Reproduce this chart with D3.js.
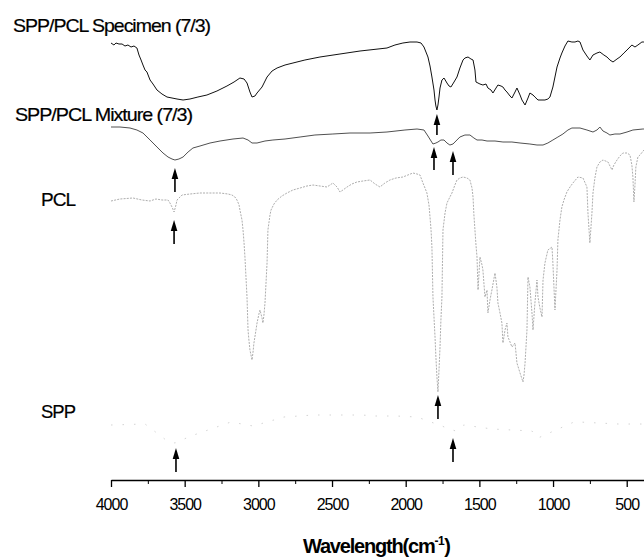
<!DOCTYPE html>
<html>
<head>
<meta charset="utf-8">
<script src="https://cdn.jsdelivr.net/npm/d3@7/dist/d3.min.js"></script>
<style>
  html, body { margin: 0; padding: 0; background: #fff; }
  svg { display: block; }
  text { font-family: "Liberation Sans", Arial, Helvetica, sans-serif; fill: #000; }
</style>
</head>
<body>
<svg id="chart" width="644" height="559"></svg>
<script>
// ---- Data (wavenumber cm-1, transmittance in arbitrary offset units) ----
const seriesNames = ["SPP/PCL Specimen (7/3)", "SPP/PCL Mixture (7/3)", "PCL", "SPP"];

const specimen = [[4000,43.7],[3980,43.5],[3966,43.7],[3946,43.6],[3925,43.6],[3905,43.4],[3885,43.5],[3864,43.3],[3844,43.4],[3824,43.2],[3810,42.5],[3796,42.0],[3783,41.5],[3769,41.0],[3756,40.8],[3735,40.0],[3715,39.6],[3688,39.0],[3654,38.6],[3620,38.3],[3586,38.2],[3552,38.1],[3511,38.0],[3464,38.1],[3410,38.3],[3349,38.5],[3281,38.9],[3213,39.4],[3165,39.8],[3125,40.2],[3097,40.1],[3077,39.7],[3057,38.8],[3043,38.3],[3023,38.4],[3009,38.7],[2975,39.3],[2941,40.3],[2907,40.9],[2873,41.2],[2819,41.5],[2765,41.7],[2684,42.0],[2582,42.3],[2446,42.6],[2310,42.9],[2127,43.2],[2073,43.5],[2019,43.7],[1971,43.8],[1923,43.8],[1896,43.7],[1876,43.3],[1849,42.3],[1835,41.4],[1822,40.3],[1808,39.0],[1801,38.0],[1795,37.4],[1788,37.0],[1781,37.5],[1774,38.3],[1767,39.2],[1754,40.0],[1740,40.2],[1720,39.7],[1706,39.4],[1693,39.3],[1672,39.8],[1652,40.3],[1632,41.2],[1611,42.0],[1598,42.2],[1577,42.3],[1557,42.1],[1543,42.0],[1530,41.0],[1523,39.8],[1496,39.6],[1476,39.5],[1455,39.6],[1442,39.2],[1421,39.0],[1408,38.7],[1387,39.2],[1374,39.5],[1353,39.4],[1340,39.3],[1326,39.0],[1313,38.8],[1292,38.4],[1279,38.2],[1258,38.8],[1245,39.2],[1224,38.5],[1211,38.0],[1190,37.5],[1170,38.2],[1157,38.7],[1136,38.5],[1123,38.3],[1102,38.0],[1089,38.0],[1055,38.0],[1035,38.1],[1021,38.3],[1001,39.3],[987,40.3],[973,41.3],[953,42.2],[940,42.7],[919,43.4],[899,43.9],[872,43.8],[851,43.8],[831,43.9],[817,43.8],[797,43.0],[770,42.4],[750,42.0],[729,42.5],[702,42.7],[682,42.8],[655,42.5],[634,42.3],[614,42.0],[593,41.8],[566,42.1],[546,42.3],[519,42.7],[498,43.0],[478,43.3],[465,43.5],[444,43.3],[424,43.5],[397,43.8],[383,43.8]];

const mixture = [[4000,35.3],[3939,35.3],[3871,35.2],[3824,35.0],[3783,34.7],[3735,34.0],[3688,33.3],[3647,32.7],[3613,32.3],[3586,32.1],[3566,32.0],[3539,32.1],[3511,32.3],[3477,32.8],[3444,33.2],[3396,33.4],[3328,33.7],[3260,33.9],[3172,34.1],[3104,34.2],[3070,34.0],[3043,33.7],[3009,33.7],[2955,33.9],[2901,34.0],[2819,34.1],[2717,34.3],[2616,34.5],[2494,34.6],[2378,34.7],[2242,34.7],[2127,34.8],[2005,35.0],[1923,35.1],[1876,35.0],[1849,34.4],[1828,33.9],[1815,33.6],[1795,33.7],[1781,33.8],[1761,34.0],[1740,34.0],[1720,33.7],[1700,33.5],[1679,33.6],[1659,33.9],[1632,34.3],[1598,34.5],[1564,34.5],[1537,34.2],[1516,34.0],[1482,34.0],[1448,33.9],[1394,33.9],[1340,33.8],[1279,33.8],[1224,33.7],[1157,33.6],[1109,33.5],[1068,33.5],[1035,33.7],[1001,34.0],[967,34.3],[933,34.6],[899,35.0],[872,35.2],[817,35.2],[770,35.0],[729,34.8],[702,35.0],[682,35.3],[661,34.9],[634,34.7],[614,34.5],[580,34.6],[546,34.6],[498,34.8],[458,35.0],[390,35.1],[383,35.1]];

const pcl = [[4000,27.9],[3939,28.1],[3851,28.2],[3790,28.0],[3735,27.9],[3695,28.1],[3654,28.0],[3613,28.0],[3600,27.7],[3586,27.3],[3572,26.8],[3559,27.5],[3552,28.0],[3518,28.5],[3464,28.6],[3396,28.7],[3328,28.7],[3260,28.7],[3206,28.6],[3179,28.5],[3159,28.3],[3145,28.0],[3131,27.5],[3125,27.0],[3111,26.0],[3104,25.0],[3097,23.7],[3091,22.3],[3084,20.3],[3077,18.3],[3070,15.0],[3064,14.0],[3057,13.0],[3043,12.0],[3036,12.8],[3030,13.7],[3016,15.0],[3009,15.7],[2996,16.6],[2989,17.0],[2975,16.2],[2969,15.7],[2962,16.5],[2955,17.7],[2948,19.7],[2941,21.7],[2935,25.0],[2921,26.5],[2914,27.0],[2894,27.6],[2873,28.0],[2840,28.4],[2806,28.7],[2765,29.0],[2717,29.2],[2670,29.4],[2629,29.5],[2582,29.4],[2534,29.3],[2494,29.7],[2466,29.3],[2446,28.8],[2426,29.0],[2398,29.3],[2365,29.6],[2331,29.8],[2290,29.9],[2242,30.0],[2208,29.6],[2175,29.3],[2141,29.7],[2107,30.0],[2066,30.2],[2019,30.3],[1985,30.5],[1951,30.7],[1923,30.6],[1903,30.5],[1883,29.7],[1869,29.2],[1856,28.7],[1842,27.5],[1835,26.3],[1828,25.0],[1822,23.3],[1815,18.3],[1808,16.3],[1801,14.3],[1795,12.3],[1788,10.3],[1781,8.8],[1774,11.0],[1767,13.3],[1761,16.0],[1754,18.3],[1747,25.0],[1733,26.7],[1720,27.7],[1700,28.3],[1686,28.7],[1666,29.5],[1652,30.0],[1632,30.2],[1611,30.3],[1584,30.2],[1564,30.0],[1550,29.2],[1543,28.3],[1537,26.5],[1530,25.0],[1523,23.5],[1516,22.3],[1509,19.0],[1496,22.3],[1482,21.5],[1476,21.0],[1462,18.3],[1448,19.0],[1442,16.7],[1428,18.0],[1415,19.0],[1394,20.7],[1381,19.3],[1374,17.7],[1360,16.7],[1347,15.7],[1340,13.7],[1326,15.0],[1313,15.7],[1306,14.3],[1292,13.8],[1279,13.3],[1258,13.7],[1245,11.7],[1224,10.7],[1204,9.8],[1197,10.5],[1190,11.7],[1177,15.0],[1170,20.3],[1157,19.3],[1143,16.7],[1136,15.0],[1123,17.7],[1109,20.0],[1102,18.3],[1089,17.2],[1075,16.3],[1068,20.0],[1055,21.7],[1035,23.0],[1007,23.3],[1001,21.7],[987,17.0],[973,21.0],[967,24.0],[953,26.0],[940,27.3],[926,28.0],[906,28.8],[885,29.3],[865,29.7],[831,30.3],[797,30.2],[770,29.3],[763,26.7],[750,23.7],[736,26.7],[729,28.7],[716,30.2],[702,31.3],[682,31.8],[661,32.0],[627,31.8],[600,31.0],[587,31.5],[566,32.0],[546,32.4],[526,32.7],[498,32.7],[478,32.5],[465,31.5],[458,30.3],[451,27.8],[444,29.5],[438,31.3],[424,32.3],[410,32.5],[383,33.0]];

const spp = [[4000,5.5],[3769,5.6],[3627,4.0],[3566,3.7],[3457,4.4],[3186,5.8],[3036,5.4],[2941,5.8],[2826,6.3],[2622,6.5],[2534,6.5],[2297,6.5],[2208,6.4],[2066,6.4],[1923,6.3],[1754,5.4],[1706,5.1],[1659,4.9],[1605,5.5],[1415,5.1],[1143,4.9],[1102,4.2],[858,5.8],[824,5.8],[559,5.6],[383,5.6]];

// arrows: [wavenumber, tip value, tail value]
const arrows = [[3566,31.2,28.8],[3572,26.0,23.6],[1788,36.6,34.5],[1808,33.3,31.0],[1679,32.9,30.5],[3559,3.2,0.8],[1781,8.5,6.1],[1679,4.2,1.8]];

const majorTicks = [4000,3500,3000,2500,2000,1500,1000,500];
const minorTicks = [3750,3250,2750,2250,1750,1250,750];
const xTitle = "Wavelength(cm";
const xTitleSup = "-1";

// ---- Drawing ----
const svg = d3.select("#chart");
const x = d3.scaleLinear().domain([4000, 380]).range([111, 644.4]);
const y = d3.scaleLinear().domain([0, 48]).range([480, 0]);
const line = d3.line().x(d => x(d[0])).y(d => y(d[1]));

// spectra
svg.append("path").datum(spp).attr("d", line)
  .attr("fill", "none").attr("stroke", "#d4d4d4").attr("stroke-width", 1)
  .attr("stroke-dasharray", "1.5,10");
svg.append("path").datum(pcl).attr("d", line)
  .attr("fill", "none").attr("stroke", "#a4a4a4").attr("stroke-width", 0.9)
  .attr("stroke-dasharray", "2,1.2");
svg.append("path").datum(mixture).attr("d", line)
  .attr("fill", "none").attr("stroke", "#505050").attr("stroke-width", 1);
svg.append("path").datum(specimen).attr("d", line)
  .attr("fill", "none").attr("stroke", "#111").attr("stroke-width", 1);

// arrows
const ag = svg.append("g");
arrows.forEach(a => {
  const ax = x(a[0]), yt = y(a[1]), yb = y(a[2]);
  ag.append("line").attr("x1", ax).attr("x2", ax).attr("y1", yt + 8).attr("y2", yb)
    .attr("stroke", "#000").attr("stroke-width", 1.6);
  ag.append("path")
    .attr("d", `M${ax},${yt} L${ax - 3.3},${yt + 11} L${ax + 3.3},${yt + 11} Z`)
    .attr("fill", "#000");
});

// axis
const axisG = svg.append("g").attr("transform", "translate(0,480)");
axisG.call(d3.axisBottom(x).tickValues(majorTicks).tickSize(7).tickSizeOuter(0).tickFormat(d3.format("d")));
axisG.select(".domain").attr("stroke", "#000").attr("stroke-width", 1.7);
axisG.selectAll(".tick line").attr("stroke", "#000").attr("stroke-width", 1.3);
axisG.selectAll(".tick text")
  .attr("y", 30).attr("dy", 0)
  .style("font-family", "'Liberation Sans', Arial, sans-serif")
  .style("font-size", "16px").style("letter-spacing", "-1px").attr("fill", "#000");
const minorG = svg.append("g").attr("transform", "translate(0,480)");
minorG.call(d3.axisBottom(x).tickValues(minorTicks).tickSize(4).tickFormat(""));
minorG.select(".domain").remove();
minorG.selectAll(".tick line").attr("stroke", "#000").attr("stroke-width", 1);

// axis title
const t = svg.append("text").attr("x", 303).attr("y", 553)
  .style("font-size", "20px").style("font-weight", "bold").style("letter-spacing", "-1.2px");
t.append("tspan").text(xTitle);
t.append("tspan").attr("dy", -8).style("font-size", "12px").style("letter-spacing", "-0.5px").text(xTitleSup);
t.append("tspan").attr("dy", 8).text(")");

// series labels
const labelPos = [
  {x: 13, y: 32, w: 197},
  {x: 15, y: 121, w: 177},
  {x: 41, y: 206, w: 34},
  {x: 41, y: 418, w: 34}
];
seriesNames.forEach((n, i) => {
  svg.append("text").attr("x", labelPos[i].x).attr("y", labelPos[i].y)
    .attr("textLength", labelPos[i].w).attr("lengthAdjust", "spacingAndGlyphs")
    .style("font-size", "19px").style("letter-spacing", "-1px")
    .attr("stroke", "#000").attr("stroke-width", 0.2)
    .text(n);
});
</script>
</body>
</html>
